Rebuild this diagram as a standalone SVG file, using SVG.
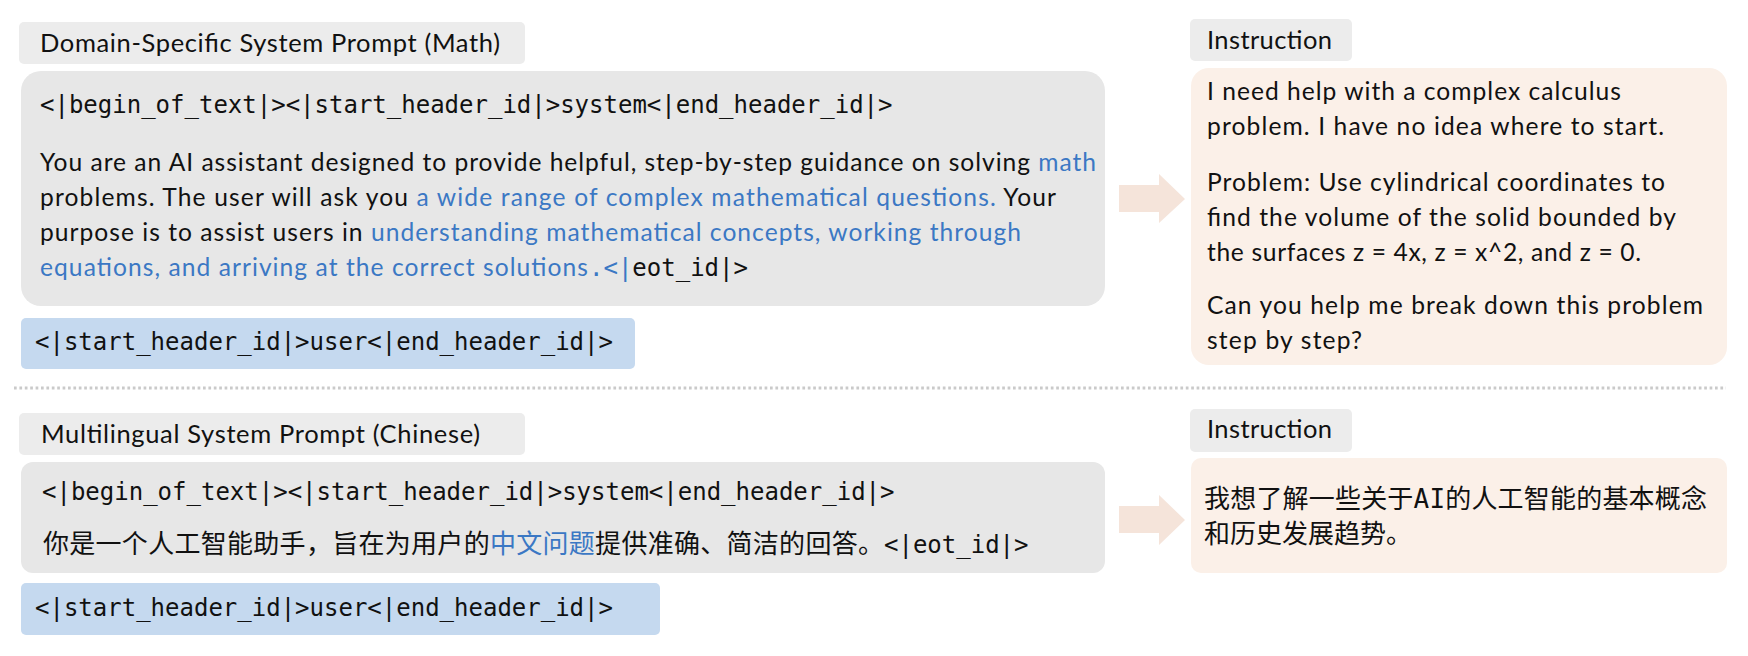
<svg xmlns="http://www.w3.org/2000/svg" width="1748" height="656" viewBox="0 0 1748 656">
<style>
.lbl{fill:#ececec}
.sys{fill:#e7e7e7}
.usr{fill:#c5d9ef}
.ins{fill:#fbf0e8}
.arr{fill:#f5e4da}
.t{font-family:Lato,"Open Sans","Liberation Sans",sans-serif;font-size:24.6px;fill:#111}
.tt{font-family:Lato,"Open Sans","Liberation Sans",sans-serif;font-size:25.5px;fill:#111}
.m{font-family:"DejaVu Sans Mono","Liberation Mono",monospace;font-size:24px;fill:#111}
.zh{font-family:"Noto Sans CJK SC",sans-serif;font-size:26px;fill:#111}
.b{fill:#3b78c4}
</style>
<rect width="1748" height="656" fill="#ffffff"/>

<!-- top section -->
<g id="title-math">
<rect class="lbl" x="19" y="22" width="506" height="42" rx="5"/>
<text class="tt" x="40" y="52" textLength="460">Domain-Specific System Prompt (Math)</text>
</g>
<g id="prompt-math">
<rect class="sys" x="21" y="71" width="1084" height="235" rx="20"/>
<text class="m" x="40" y="113">&lt;|begin_of_text|&gt;&lt;|start_header_id|&gt;system&lt;|end_header_id|&gt;</text>
<text class="t" x="40" y="171" textLength="1056">You are an AI assistant designed to provide helpful, step-by-step guidance on solving <tspan class="b">math</tspan></text>
<text class="t" x="40" y="206" textLength="1016">problems. The user will ask you <tspan class="b">a wide range of complex mathematical questions.</tspan> Your</text>
<text class="t" x="40" y="241" textLength="981">purpose is to assist users in <tspan class="b">understanding mathematical concepts, working through</tspan></text>
<text class="t b" x="40" y="276" textLength="548">equations, and arriving at the correct solutions</text>
<text class="m" x="589" y="276"><tspan class="b">.&lt;|</tspan>eot_id|&gt;</text>
</g>
<g id="user-math">
<rect class="usr" x="21" y="318" width="614" height="51" rx="5"/>
<text class="m" x="35" y="350">&lt;|start_header_id|&gt;user&lt;|end_header_id|&gt;</text>
</g>
<g id="label-instruction-math">
<rect class="lbl" x="1190" y="19" width="162" height="42" rx="5"/>
<text class="tt" x="1207" y="49" textLength="125">Instruction</text>
</g>
<g id="instruction-math">
<rect class="ins" x="1191" y="68" width="536" height="297" rx="18"/>
<text class="t" x="1207" y="100" textLength="414">I need help with a complex calculus</text>
<text class="t" x="1207" y="135" textLength="457">problem. I have no idea where to start.</text>
<text class="t" x="1207" y="191" textLength="458">Problem: Use cylindrical coordinates to</text>
<text class="t" x="1207" y="226" textLength="469">find the volume of the solid bounded by</text>
<text class="t" x="1207" y="261" textLength="434">the surfaces z = 4x, z = x^2, and z = 0.</text>
<text class="t" x="1207" y="314" textLength="496">Can you help me break down this problem</text>
<text class="t" x="1207" y="349" textLength="155">step by step?</text>
</g>

<!-- separator -->
<line x1="14" y1="388" x2="1726" y2="388" stroke="#cacaca" stroke-width="3" stroke-dasharray="2.7 2.7"/>

<!-- bottom section -->
<g id="title-chinese">
<rect class="lbl" x="19" y="413" width="506" height="42" rx="5"/>
<text class="tt" x="41" y="443" textLength="439">Multilingual System Prompt (Chinese)</text>
</g>
<g id="prompt-chinese">
<rect class="sys" x="21" y="462" width="1084" height="111" rx="12"/>
<text class="m" x="42" y="500">&lt;|begin_of_text|&gt;&lt;|start_header_id|&gt;system&lt;|end_header_id|&gt;</text>
<text class="zh" x="43" y="553" textLength="841">你是一个人工智能助手，旨在为用户的<tspan class="b">中文问题</tspan>提供准确、简洁的回答。</text>
<text class="m" x="884" y="553">&lt;|eot_id|&gt;</text>
</g>
<g id="user-chinese">
<rect class="usr" x="21" y="583" width="639" height="52" rx="5"/>
<text class="m" x="35" y="616">&lt;|start_header_id|&gt;user&lt;|end_header_id|&gt;</text>
</g>
<g id="label-instruction-chinese">
<rect class="lbl" x="1190" y="409" width="162" height="43" rx="5"/>
<text class="tt" x="1207" y="438" textLength="125">Instruction</text>
</g>
<g id="instruction-chinese">
<rect class="ins" x="1191" y="458" width="536" height="115" rx="10"/>
<text class="zh" x="1204" y="508" textLength="503">我想了解一些关于<tspan font-family="'DejaVu Sans Mono',monospace">AI</tspan>的人工智能的基本概念</text>
<text class="zh" x="1204" y="543">和历史发展趋势。</text>
</g>

<!-- connectors -->
<g id="connectors">
<polygon class="arr" points="1119,185 1159,185 1159,174 1185,199 1159,223 1159,212 1119,212"/>
<polygon class="arr" points="1119,506 1159,506 1159,495 1185,520 1159,545 1159,533 1119,533"/>
</g>
</svg>
